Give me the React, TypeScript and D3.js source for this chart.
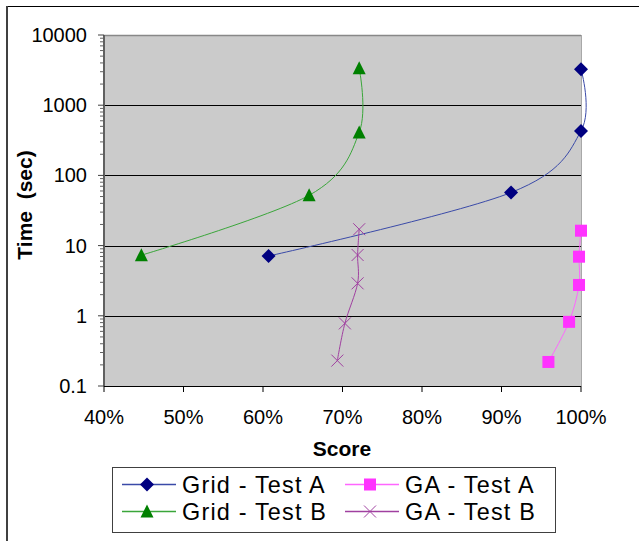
import React from "react";
import * as d3 from "d3";

// values
const gridAScore = [0.607, 0.912, 1.0, 1.0];
const gridATime = [7.1, 57, 430, 3250];
const gridBScore = [0.447, 0.658, 0.721, 0.721];
const gridBTime = [7.3, 52, 410, 3350];
const gaAScore = [0.959, 0.985, 0.9975, 0.9975, 1.0];
const gaATime = [0.22, 0.82, 2.75, 6.95, 16.3];
const gaBScore = [0.6935, 0.703, 0.719, 0.719, 0.721];
const gaBTime = [0.23, 0.78, 2.9, 7.35, 17.1];

const xTicks = [0.4, 0.5, 0.6, 0.7, 0.8, 0.9, 1.0];
const yTicks = [0.1, 1, 10, 100, 1000, 10000];

const series = [
  { name: "Grid - Test A", score: gridAScore, time: gridATime, line: "#3a4aa8", fill: "#000080", mark: "diamond" },
  { name: "Grid - Test B", score: gridBScore, time: gridBTime, line: "#3aa63a", fill: "#008000", mark: "triangle" },
  { name: "GA - Test A", score: gaAScore, time: gaATime, line: "#ff66ff", fill: "#ff33ff", mark: "square" },
  { name: "GA - Test B", score: gaBScore, time: gaBTime, line: "#a040a0", fill: "#a040a0", mark: "x" },
];

const FONT = "'Liberation Sans', Arial, sans-serif";

function Marker({ kind, x, y, color }: { kind: string; x: number; y: number; color: string }) {
  if (kind === "diamond")
    return <path d="M0,-7L7,0L0,7L-7,0Z" transform={`translate(${x},${y})`} fill={color} />;
  if (kind === "triangle")
    return <path d="M0,-7L6.5,6L-6.5,6Z" transform={`translate(${x},${y})`} fill={color} />;
  if (kind === "square")
    return <rect x={x - 6} y={y - 6} width={12} height={12} fill={color} />;
  return (
    <path d="M-6,-6L6,6M-6,6L6,-6" transform={`translate(${x},${y})`} stroke={color} strokeWidth={1} fill="none" />
  );
}

export default function App() {
  const left = 104, right = 581, top = 35, bottom = 386;
  const x = d3.scaleLinear().domain([0.4, 1.0]).range([left, right]);
  const y = d3.scaleLog().domain([0.1, 10000]).range([bottom, top]);

  const line = d3
    .line<[number, number]>()
    .x((d) => x(d[0]))
    .y((d) => y(d[1]))
    .curve(d3.curveCardinal.tension(0));

  const minor: number[] = [];
  for (let e = -1; e < 4; e++) for (let k = 2; k < 10; k++) minor.push(k * Math.pow(10, e));

  const legendRows = [
    [series[0], series[2]],
    [series[1], series[3]],
  ];

  return (
    <svg width={639} height={541} style={{ position: "absolute", left: 0, top: 0 }} fontFamily={FONT}>
      <rect x={0} y={0} width={639} height={541} fill="#fff" />
      {/* chart border */}
      <line x1={7} y1={6.5} x2={639} y2={6.5} stroke="#000" strokeWidth={1} />
      <line x1={7} y1={6} x2={7} y2={541} stroke="#404040" strokeWidth={2} />

      {/* plot area */}
      <rect x={left} y={top} width={right - left} height={bottom - top} fill="#cbcbcb" />
      <line x1={left} y1={top + 0.5} x2={right} y2={top + 0.5} stroke="#888" strokeWidth={1.5} />
      <line x1={right + 0.5} y1={top} x2={right + 0.5} y2={bottom} stroke="#a8a8a8" strokeWidth={1} />
      {yTicks.slice(1, -1).map((t) => (
        <line key={t} x1={left} x2={right} y1={Math.round(y(t)) + 0.5} y2={Math.round(y(t)) + 0.5} stroke="#000" strokeWidth={1} />
      ))}
      <line x1={left} y1={bottom + 0.5} x2={right} y2={bottom + 0.5} stroke="#000" strokeWidth={1} />
      <line x1={left} y1={top} x2={left} y2={bottom} stroke="#606060" strokeWidth={2} />

      {/* y axis ticks and labels */}
      {minor.map((t) => (
        <line key={t} x1={left - 4} x2={left} y1={y(t)} y2={y(t)} stroke="#606060" strokeWidth={1} />
      ))}
      {yTicks.map((t) => (
        <g key={t}>
          <line x1={left - 6} x2={left} y1={y(t)} y2={y(t)} stroke="#404040" strokeWidth={1} />
          <text x={87} y={y(t)} dy="0.35em" textAnchor="end" fontSize={20} fill="#000">
            {String(t)}
          </text>
        </g>
      ))}

      {/* x axis ticks and labels */}
      {xTicks.map((t) => (
        <g key={t}>
          <line x1={x(t)} x2={x(t)} y1={bottom} y2={bottom + 6} stroke="#000" strokeWidth={1} />
          <text x={x(t)} y={424} textAnchor="middle" fontSize={20} fill="#000">
            {d3.format(".0%")(t)}
          </text>
        </g>
      ))}

      {/* axis titles */}
      <text x={342} y={456} textAnchor="middle" fontSize={21} fontWeight="bold">
        Score
      </text>
      <text transform="translate(32,205) rotate(-90)" textAnchor="middle" fontSize={21} fontWeight="bold">
        {"Time\u00a0 (sec)"}
      </text>

      {/* series */}
      {series.map((s) => {
        const pts = s.score.map((v, i) => [v, s.time[i]] as [number, number]);
        return (
          <g key={s.name}>
            <path d={line(pts) || ""} fill="none" stroke={s.line} strokeWidth={1} />
            {pts.map((p, i) => (
              <Marker key={i} kind={s.mark} x={x(p[0])} y={y(p[1])} color={s.fill} />
            ))}
          </g>
        );
      })}

      {/* legend */}
      <rect x={112.5} y={467.5} width={443} height={65} fill="#fff" stroke="#404040" strokeWidth={1} />
      {legendRows.map((row, r) =>
        row.map((s, c) => {
          const cy = 484.5 + r * 27;
          const lx = c === 0 ? 122 : 345;
          return (
            <g key={s.name}>
              <line x1={lx} x2={lx + 54} y1={cy} y2={cy} stroke={s.line} strokeWidth={1.5} />
              <Marker kind={s.mark} x={lx + 25} y={cy} color={s.fill} />
              <text x={lx + 60} y={cy} dy="0.35em" fontSize={23.4} letterSpacing={1.2} fill="#000">
                {s.name}
              </text>
            </g>
          );
        })
      )}
    </svg>
  );
}
